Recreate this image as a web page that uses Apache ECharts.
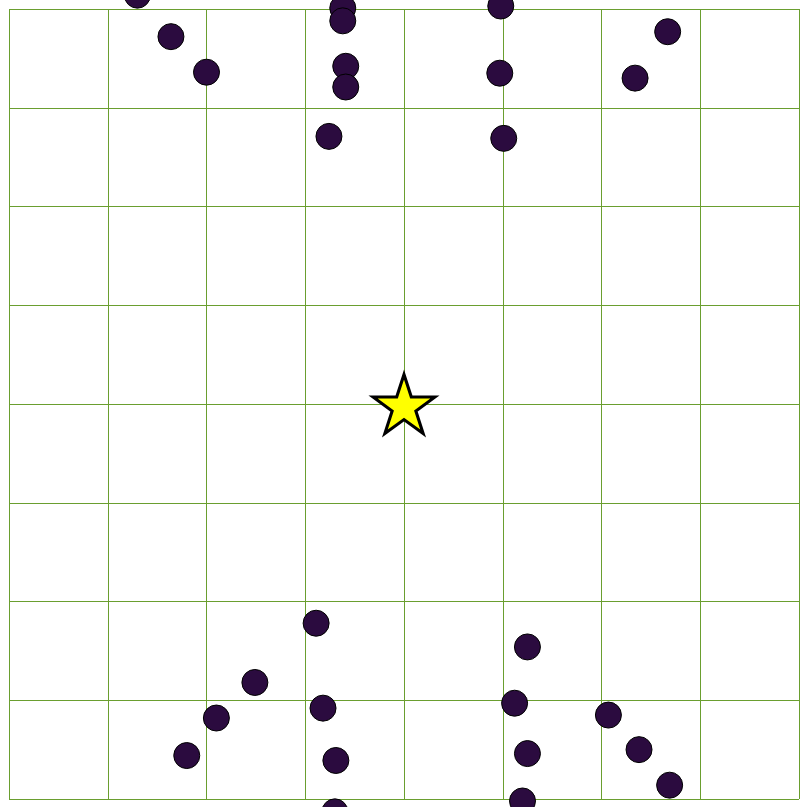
<!DOCTYPE html>
<html><head><meta charset="utf-8">
<script src="https://cdn.jsdelivr.net/npm/echarts@6/dist/echarts.min.js"></script>
<style>html,body{margin:0;padding:0;background:#fff}#c{width:803px;height:807px}</style>
</head><body><div id="c"></div>
<script>
const pointsX = [-2.70,-2.36,-2.00,-0.62,-0.62,-0.59,-0.59,-0.76,0.98,0.97,1.01,2.67,2.34,
  -0.89,-1.51,-1.90,-2.20,-0.82,-0.69,-0.70,1.25,1.12,1.25,1.20,2.07,2.38,2.69];
const pointsY = [4.14,3.72,3.36,4.01,3.88,3.42,3.21,2.71,4.03,3.35,2.69,3.77,3.30,
  -2.22,-2.82,-3.18,-3.56,-3.08,-3.61,-4.13,-2.46,-3.03,-3.54,-4.02,-3.15,-3.50,-3.86];
const starX = [0];
const starY = [0];
const axisMin = -4, axisMax = 4, axisStep = 1;

const chart = echarts.init(document.getElementById('c'));
const gridColor = '#6a9e2f';
const axisCommon = {
  type: 'value', min: axisMin, max: axisMax, interval: axisStep,
  axisLine: {show: false}, axisTick: {show: false}, axisLabel: {show: false},
  splitLine: {show: true, lineStyle: {color: gridColor, width: 1}}
};
chart.setOption({
  animation: false,
  grid: {left: 9, top: 9, right: 4, bottom: 8, containLabel: false},
  xAxis: Object.assign({}, axisCommon),
  yAxis: Object.assign({}, axisCommon),
  series: [
    {
      type: 'scatter', symbol: 'circle', symbolSize: 26, clip: false,
      itemStyle: {color: '#2b0b3f', borderColor: '#000', borderWidth: 1, opacity: 1},
      data: pointsX.map((x, i) => [x, pointsY[i]])
    },
    {
      type: 'scatter', symbol: 'path://M50,0 L61.8,36.2 L100,36.2 L69.1,58.8 L80.9,95.1 L50,72.7 L19.1,95.1 L30.9,58.8 L0,36.2 L38.2,36.2 Z',
      symbolSize: [62, 59], clip: false,
      itemStyle: {color: '#ffff00', borderColor: '#000', borderWidth: 3, opacity: 1},
      data: starX.map((x, i) => [x, starY[i]])
    }
  ]
});
</script></body></html>
